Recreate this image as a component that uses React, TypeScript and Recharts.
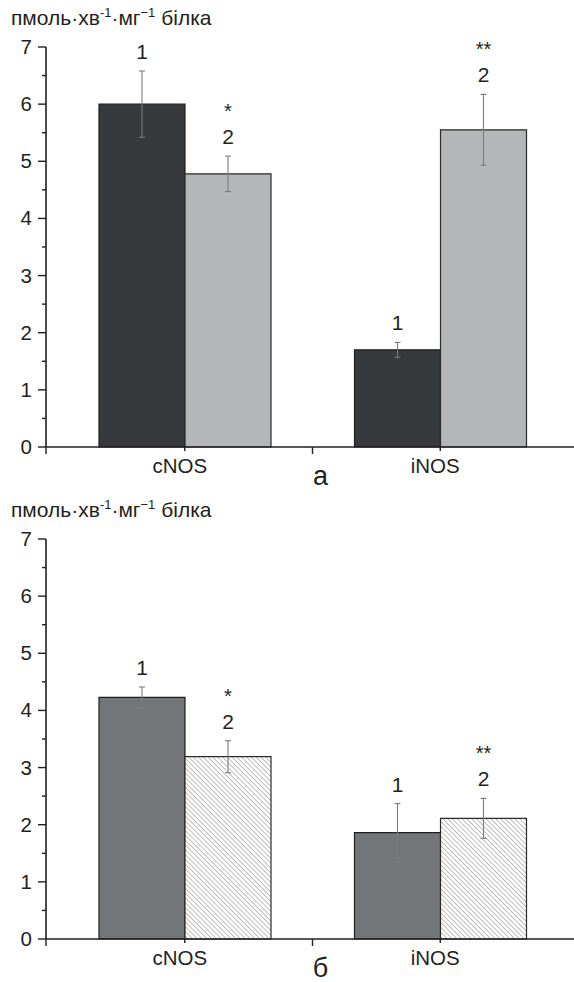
import React from "react";
import { BarChart, Bar, XAxis, YAxis, ErrorBar, LabelList } from "recharts";

// ---- data ----
const categories = ["cNOS", "iNOS"];
const topControl = [6.0, 1.7];
const topControlErr = [0.58, 0.13];
const topTreated = [4.78, 5.55];
const topTreatedErr = [0.31, 0.62];
const topStars = ["*", "**"];

const bottomControl = [4.23, 1.86];
const bottomControlErr = [0.18, 0.51];
const bottomTreated = [3.19, 2.11];
const bottomTreatedErr = [0.28, 0.35];
const bottomStars = ["*", "**"];

const seriesNumbers = ["1", "2"];
const panelLetters = ["а", "б"];
const yTicks = [0, 0.5, 1, 1.5, 2, 2.5, 3, 3.5, 4, 4.5, 5, 5.5, 6, 6.5, 7];
const unitParts = ["пмоль·хв", "-1", "·мг", "−1", " білка"];

// ---- styling ----
const FONT = "'Liberation Sans', Arial, Helvetica, sans-serif";
const TEXT = "#231f20";
const AXIS = "#231f20";
const PAD_L = 11;
const PAD_R = 6;

const buildData = (v1: number[], e1: number[], v2: number[], e2: number[], stars: string[]) =>
  categories.map((name, i) => ({ name, v1: v1[i], e1: e1[i], v2: v2[i], e2: e2[i], star: stars[i] }));

const topData = buildData(topControl, topControlErr, topTreated, topTreatedErr, topStars);
const bottomData = buildData(bottomControl, bottomControlErr, bottomTreated, bottomTreatedErr, bottomStars);

const YTick = (props: any) => {
  const { x, y, payload } = props;
  const v = payload.value;
  const major = Number.isInteger(v);
  return (
    <g>
      <line x1={x - (major ? 8 : 4)} x2={x} y1={y} y2={y} stroke={AXIS} strokeWidth={1.4} />
      {v === 0 && <line x1={x} x2={x} y1={y} y2={y + 7} stroke={AXIS} strokeWidth={1.4} />}
      {major && (
        <text x={x - 14} y={y} dy={7} textAnchor="end" fontSize={20.5} fill={TEXT} fontFamily={FONT}>
          {v}
        </text>
      )}
    </g>
  );
};

const XTick = (props: any) => {
  const { x, y, payload } = props;
  return (
    <g>
      <line x1={x} x2={x} y1={y} y2={y + 4} stroke={AXIS} strokeWidth={1.4} />
      <text x={x - 5} y={y + 26} textAnchor="middle" fontSize={20.5} fill={TEXT} fontFamily={FONT}>
        {payload.value}
      </text>
    </g>
  );
};

const PanelMark = (props: any) => {
  const vb = props.viewBox || {};
  const cx = vb.x + PAD_L + (vb.width - PAD_L - PAD_R) / 2;
  const y = vb.y;
  return (
    <g>
      <line x1={cx} x2={cx} y1={y} y2={y + 7} stroke={AXIS} strokeWidth={1.4} />
      <text x={cx + 8} y={y + 38} textAnchor="middle" fontSize={27} fill={TEXT} fontFamily={FONT}>
        {props.letter}
      </text>
    </g>
  );
};

const UnitTitle = (props: any) => {
  const vb = props.viewBox || {};
  return (
    <text x={11} y={vb.y - 22} fontSize={21} fill={TEXT} fontFamily={FONT}>
      <tspan>{unitParts[0]}</tspan>
      <tspan dy={-8} fontSize={13}>{unitParts[1]}</tspan>
      <tspan dy={8}>{unitParts[2]}</tspan>
      <tspan dy={-8} fontSize={13}>{unitParts[3]}</tspan>
      <tspan dy={8}>{unitParts[4]}</tspan>
    </text>
  );
};

const makeLabel = (num: string, errs: number[], stars: string[] | null) => (props: any) => {
  const src = props.viewBox && props.viewBox.width != null ? props.viewBox : props;
  const { x, y, width, height } = src;
  const value = Number(props.value);
  const index = props.index;
  if (!value || height == null) return null;
  const ppu = height / value;
  const errTop = y - errs[index] * ppu;
  const base = errTop - 12;
  const cx = x + width / 2;
  return (
    <g>
      <text x={cx} y={base} textAnchor="middle" fontSize={21} fill={TEXT} fontFamily={FONT}>
        {num}
      </text>
      {stars && stars[index] && (
        <text x={cx} y={base - 26} textAnchor="middle" fontSize={20} fill={TEXT} fontFamily={FONT}>
          {stars[index]}
        </text>
      )}
    </g>
  );
};

type PanelProps = {
  data: any[];
  fill1: string;
  fill2: string;
  errs1: number[];
  errs2: number[];
  stars: string[];
  letter: string;
  id: string;
  height: number;
};

const Panel = ({ data, fill1, fill2, errs1, errs2, stars, letter, id, height }: PanelProps) => (
  <BarChart
    width={574}
    height={height}
    data={data}
    margin={{ top: 47, right: 0, bottom: height - 477, left: 0 }}
    barCategoryGap={42}
    barGap={0}
    style={{ fontFamily: FONT }}
  >
    <defs>
      <pattern id={id} patternUnits="userSpaceOnUse" width={3.4} height={3.4} patternTransform="rotate(-45)">
        <rect x={0} y={0} width={3.4} height={3.4} fill="#ffffff" />
        <line x1={0} y1={0} x2={0} y2={3.4} stroke="#8a8a8a" strokeWidth={1.1} />
      </pattern>
    </defs>
    <XAxis
      dataKey="name"
      height={30}
      padding={{ left: PAD_L, right: PAD_R }}
      axisLine={{ stroke: AXIS, strokeWidth: 1.6 }}
      tickLine={false}
      tickSize={0}
      tickMargin={0}
      tick={<XTick />}
      interval={0}
      label={<PanelMark letter={letter} />}
    />
    <YAxis
      width={46}
      domain={[0, 7]}
      ticks={yTicks}
      interval={0}
      axisLine={{ stroke: AXIS, strokeWidth: 1.6 }}
      tickLine={false}
      tickSize={0}
      tickMargin={0}
      tick={<YTick />}
      label={<UnitTitle />}
    />
    <Bar dataKey="v1" fill={fill1} stroke="#1f1f1f" strokeWidth={1.2} isAnimationActive={false}>
      <ErrorBar dataKey="e1" width={3} stroke="#7c7c7c" strokeWidth={1.1} />
      <LabelList dataKey="v1" content={makeLabel(seriesNumbers[0], errs1, null)} />
    </Bar>
    <Bar dataKey="v2" fill={fill2} stroke="#2a2a2a" strokeWidth={1.2} isAnimationActive={false}>
      <ErrorBar dataKey="e2" width={3} stroke="#7c7c7c" strokeWidth={1.1} />
      <LabelList dataKey="v2" content={makeLabel(seriesNumbers[1], errs2, stars)} />
    </Bar>
  </BarChart>
);

export default function App() {
  return (
    <div style={{ position: "absolute", left: 0, top: 0, width: 574, height: 982, background: "#fff" }}>
      <div style={{ position: "absolute", left: 0, top: 0 }}>
        <Panel
          data={topData}
          fill1="#363a3d"
          fill2="#b5b6b8"
          errs1={topControlErr}
          errs2={topTreatedErr}
          stars={topStars}
          letter={panelLetters[0]}
          id="hatchTop"
          height={500}
        />
      </div>
      <div style={{ position: "absolute", left: 0, top: 492 }}>
        <Panel
          data={bottomData}
          fill1="#737678"
          fill2="url(#hatchBottom)"
          errs1={bottomControlErr}
          errs2={bottomTreatedErr}
          stars={bottomStars}
          letter={panelLetters[1]}
          id="hatchBottom"
          height={490}
        />
      </div>
    </div>
  );
}
